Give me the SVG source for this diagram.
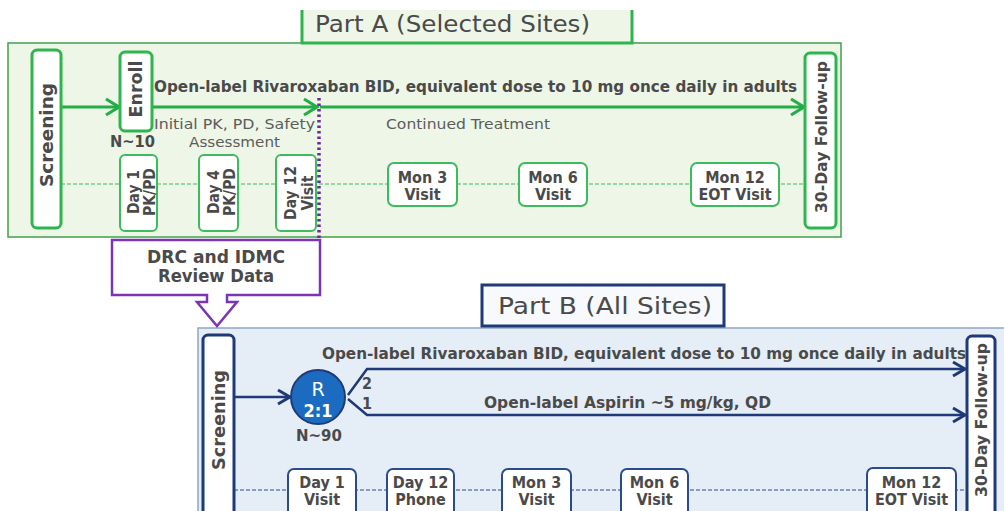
<svg xmlns="http://www.w3.org/2000/svg" width="1004" height="511" viewBox="0 0 1004 511">
<defs>
<marker id="ag" markerUnits="userSpaceOnUse" markerWidth="18" markerHeight="20" refX="15" refY="10" orient="auto">
<path d="M2,2 L15,10 L2,18" fill="none" stroke="#22ad47" stroke-width="3.2"/>
</marker>
<marker id="ab" markerUnits="userSpaceOnUse" markerWidth="18" markerHeight="20" refX="15" refY="10" orient="auto">
<path d="M3,3 L15,10 L3,17" fill="none" stroke="#1f3a78" stroke-width="3"/>
</marker>
</defs>
<style>
text{font-family:"DejaVu Sans",Verdana,sans-serif;fill:#4a4a4a}
.b{font-family:"DejaVu Sans Condensed","DejaVu Sans",sans-serif;font-weight:bold}
.gbox{fill:#fff;stroke:#2fb54e;stroke-width:3}
.gsm{fill:#fff;stroke:#3cbc5c;stroke-width:2}
.nbox{fill:#fff;stroke:#1f3a78;stroke-width:3}
.nsm{fill:#fff;stroke:#2a4c8c;stroke-width:2}
.lbl{font-family:"DejaVu Sans Condensed","DejaVu Sans",sans-serif;font-size:16px;font-weight:bold;text-anchor:middle}
.rl{font-family:"DejaVu Sans Condensed","DejaVu Sans",sans-serif;font-size:15.5px;font-weight:bold;text-anchor:middle}
.vt{font-weight:bold;text-anchor:middle}
.reg{fill:#5c5c5c}
</style>

<!-- Part A panel -->
<g id="partA">
<rect x="8" y="43" width="833" height="194" fill="#eef6e7" stroke="#3fa04a" stroke-width="1.5"/>
<path d="M302,10 V43 H632 V10 Z" fill="#eef6e7" stroke="none"/>
<path d="M302,10 V43 H632 V10" fill="none" stroke="#2fb54e" stroke-width="3"/>
<text x="315" y="32" font-size="23" textLength="275" lengthAdjust="spacingAndGlyphs" fill="#5a5a5a">Part A (Selected Sites)</text>
</g>

<!-- Part B panel -->
<g id="partB">
<rect x="198" y="328" width="820" height="200" fill="#e5edf7" stroke="#8ea6c8" stroke-width="1.5"/>
<rect x="482" y="285" width="242" height="41" fill="#f7f9fc" stroke="#1f3a78" stroke-width="3"/>
<text x="498" y="314" font-size="23" textLength="214" lengthAdjust="spacingAndGlyphs" fill="#5a5a5a">Part B (All Sites)</text>
</g>

<!-- Connectors -->
<g id="connectors" fill="none">
<line x1="61" y1="184" x2="806" y2="184" stroke="#3cbc5c" stroke-width="1" stroke-dasharray="4,2"/>
<line x1="234" y1="490" x2="967" y2="490" stroke="#2a4c8c" stroke-width="1.2" stroke-dasharray="4,2"/>
<line x1="61" y1="107" x2="119" y2="107" stroke="#22ad47" stroke-width="3.2" marker-end="url(#ag)"/>
<line x1="153" y1="107" x2="317" y2="107" stroke="#22ad47" stroke-width="3.2" marker-end="url(#ag)"/>
<line x1="320" y1="107" x2="804" y2="107" stroke="#22ad47" stroke-width="3.2" marker-end="url(#ag)"/>
<line x1="319" y1="98" x2="319" y2="238" stroke="#6a2aa8" stroke-width="3.5" stroke-dasharray="2.5,3"/>
<line x1="234" y1="397" x2="290" y2="397" stroke="#1f3a78" stroke-width="2.5" marker-end="url(#ab)"/>
<path d="M348,395 L367,369 H965" stroke="#1f3a78" stroke-width="2.5" marker-end="url(#ab)"/>
<path d="M348,399 L367,415 H965" stroke="#1f3a78" stroke-width="2.5" marker-end="url(#ab)"/>
</g>

<!-- Part A nodes -->
<g id="screeningA">
<rect class="gbox" x="32" y="50" width="29" height="178" rx="5"/>
<text class="vt" font-size="18" transform="rotate(-90 46.5 135)" x="46.5" y="141" textLength="104" lengthAdjust="spacingAndGlyphs">Screening</text>
</g>
<g id="enroll">
<rect class="gbox" x="120" y="52" width="32" height="79" rx="5"/>
<text class="vt" font-size="17" transform="rotate(-90 136 89)" x="136" y="95" textLength="57" lengthAdjust="spacingAndGlyphs">Enroll</text>
</g>
<g id="followA">
<rect class="gbox" x="805" y="53" width="31" height="175" rx="5"/>
<text class="vt" font-size="15.5" transform="rotate(-90 820.5 137)" x="820.5" y="143" textLength="152" lengthAdjust="spacingAndGlyphs">30-Day Follow-up</text>
</g>
<g id="dayA1">
<rect class="gsm" x="120" y="155" width="37" height="76" rx="5"/>
<g transform="rotate(-90 138.5 192)"><text class="rl" x="138.5" y="192">Day 1</text><text class="rl" x="138.5" y="208">PK/PD</text></g>
</g>
<g id="dayA4">
<rect class="gsm" x="199" y="155" width="39" height="76" rx="5"/>
<g transform="rotate(-90 218.5 192)"><text class="rl" x="218.5" y="192">Day 4</text><text class="rl" x="218.5" y="208.5">PK/PD</text></g>
</g>
<g id="dayA12">
<rect class="gsm" x="276" y="155" width="40" height="76" rx="5"/>
<g transform="rotate(-90 296 193)"><text class="rl" x="296" y="192.5">Day 12</text><text class="rl" x="296" y="209.5">Visit</text></g>
</g>
<g id="monA3">
<rect class="gsm" x="388" y="163" width="69" height="43" rx="6"/>
<text class="lbl" x="422.5" y="183">Mon 3</text><text class="lbl" x="422.5" y="200">Visit</text>
</g>
<g id="monA6">
<rect class="gsm" x="519" y="163" width="68" height="43" rx="6"/>
<text class="lbl" x="553" y="183">Mon 6</text><text class="lbl" x="553" y="200">Visit</text>
</g>
<g id="monA12">
<rect class="gsm" x="691" y="163" width="88" height="43" rx="6"/>
<text class="lbl" x="735" y="183">Mon 12</text><text class="lbl" x="735" y="200">EOT Visit</text>
</g>
<g id="labelsA">
<text class="b" x="154" y="92" font-size="16.5" textLength="643" lengthAdjust="spacingAndGlyphs">Open-label Rivaroxaban BID, equivalent dose to 10 mg once daily in adults</text>
<text class="reg" x="154" y="129" font-size="14.5" textLength="161" lengthAdjust="spacingAndGlyphs">Initial PK, PD, Safety</text>
<text class="reg" x="234.5" y="147" font-size="14.5" text-anchor="middle" textLength="91" lengthAdjust="spacingAndGlyphs">Assessment</text>
<text class="b" x="110" y="147" font-size="15.5" textLength="45" lengthAdjust="spacingAndGlyphs">N~10</text>
<text class="reg" x="386" y="129" font-size="14.5" textLength="164" lengthAdjust="spacingAndGlyphs">Continued Treatment</text>
</g>

<!-- DRC -->
<g id="drc">
<path d="M112,240 H320 V295 H227 V302 H237 L217,326 L197,302 H207 V295 H112 Z" fill="#fff" stroke="#7b35b3" stroke-width="2.5"/>
<text class="b" x="216" y="263" font-size="17" text-anchor="middle" textLength="138" lengthAdjust="spacingAndGlyphs">DRC and IDMC</text>
<text class="b" x="216" y="282" font-size="17" text-anchor="middle" textLength="116" lengthAdjust="spacingAndGlyphs">Review Data</text>
</g>

<!-- Part B nodes -->
<g id="screeningB">
<rect class="nbox" x="203" y="335" width="31" height="190" rx="5"/>
<text class="vt" font-size="17" transform="rotate(-90 218.5 420)" x="218.5" y="426" textLength="100" lengthAdjust="spacingAndGlyphs">Screening</text>
</g>
<g id="rand">
<circle cx="318" cy="397" r="27" fill="#1b6cc0" stroke="#1f3a78" stroke-width="2"/>
<text x="318" y="396" font-size="19" text-anchor="middle" style="fill:#fff">R</text>
<text class="b" x="318" y="417" font-size="18" text-anchor="middle" style="fill:#fff">2:1</text>
<text class="b" x="319" y="441" font-size="15.5" text-anchor="middle" textLength="46" lengthAdjust="spacingAndGlyphs">N~90</text>
<text class="b" x="362" y="389" font-size="16">2</text>
<text class="b" x="362" y="409" font-size="16">1</text>
</g>
<g id="followB">
<rect class="nbox" x="967" y="336" width="28" height="190" rx="5"/>
<text class="vt" font-size="15.5" transform="rotate(-90 981 420)" x="981" y="426" textLength="154" lengthAdjust="spacingAndGlyphs">30-Day Follow-up</text>
</g>
<g id="dayB1">
<rect class="nsm" x="288" y="469" width="68" height="50" rx="6"/>
<text class="lbl" x="322" y="488">Day 1</text><text class="lbl" x="322" y="505">Visit</text>
</g>
<g id="dayB12">
<rect class="nsm" x="387" y="469" width="67" height="50" rx="6"/>
<text class="lbl" x="420.5" y="488">Day 12</text><text class="lbl" x="420.5" y="505">Phone</text>
</g>
<g id="monB3">
<rect class="nsm" x="502" y="469" width="69" height="50" rx="6"/>
<text class="lbl" x="536.5" y="488">Mon 3</text><text class="lbl" x="536.5" y="505">Visit</text>
</g>
<g id="monB6">
<rect class="nsm" x="621" y="469" width="67" height="50" rx="6"/>
<text class="lbl" x="654.5" y="488">Mon 6</text><text class="lbl" x="654.5" y="505">Visit</text>
</g>
<g id="monB12">
<rect class="nsm" x="867" y="468" width="89" height="50" rx="6"/>
<text class="lbl" x="911.5" y="488">Mon 12</text><text class="lbl" x="911.5" y="505">EOT Visit</text>
</g>
<g id="labelsB">
<text class="b" x="322" y="359" font-size="16.5" textLength="644" lengthAdjust="spacingAndGlyphs">Open-label Rivaroxaban BID, equivalent dose to 10 mg once daily in adults</text>
<text class="b" x="484" y="408" font-size="16.5" textLength="287" lengthAdjust="spacingAndGlyphs">Open-label Aspirin ~5 mg/kg, QD</text>
</g>
</svg>
